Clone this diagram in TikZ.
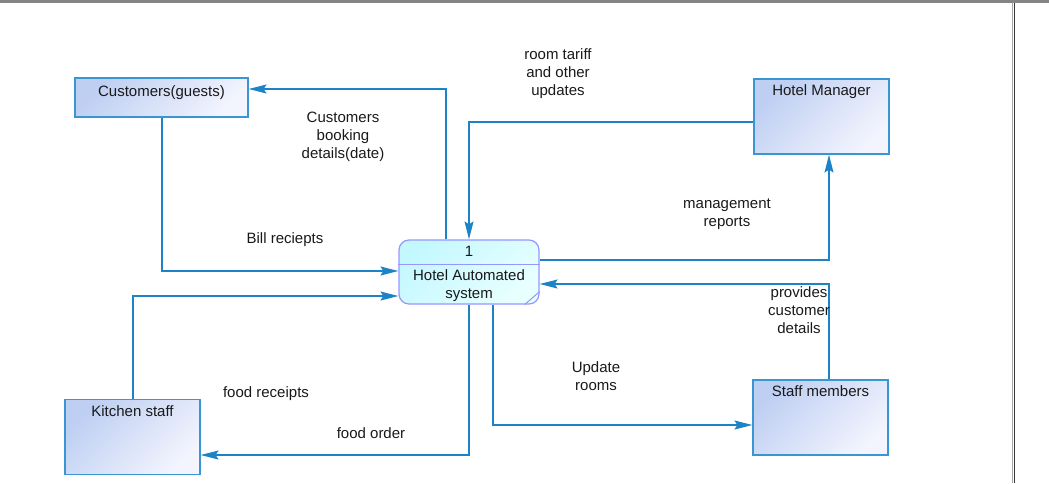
\documentclass[tikz,border=0pt]{standalone}
\usepackage{fontspec}
\setmainfont{Liberation Sans}
\usetikzlibrary{shapes,arrows.meta}

\definecolor{flowblue}{RGB}{28,132,198}
\definecolor{boxline}{RGB}{58,150,210}
\definecolor{boxtop}{RGB}{190,207,242}
\definecolor{boxbot}{RGB}{243,244,254}
\definecolor{procline}{RGB}{150,150,255}
\definecolor{proctop}{RGB}{196,248,255}
\definecolor{procbot}{RGB}{232,255,255}
\definecolor{txt}{RGB}{25,25,25}

\begin{document}
\begin{tikzpicture}[x=1pt,y=-1pt,>={Stealth[length=18pt,width=9pt,inset=3pt]},
  line width=1.2pt,font=\fontsize{15}{18}\selectfont,text=txt]
\tikzstyle{entity}=[draw=boxline,top color=boxtop,bottom color=boxbot,shading angle=45,
  minimum width=135pt,minimum height=75pt,inner sep=0pt]
\tikzstyle{process}=[draw=procline,top color=proctop,bottom color=procbot,shading angle=45,
  rounded corners=10pt,minimum width=140pt,minimum height=64pt,inner sep=0pt]
\tikzstyle{flow}=[->,draw=flowblue]
\tikzstyle{lbl}=[align=center,inner sep=0pt]
\useasboundingbox (0,0) rectangle (1049,483);

% frame of the window
\fill[black!48] (0,0) rectangle (1049,3);
\draw[line width=1.8pt,black!78] (1014.5,3) -- (1014.5,483);
\draw[line width=0.8pt,black!35] (1012.8,3) -- (1012.8,483);

% external entities
\node[entity,minimum width=173pt,minimum height=39pt,
  label={[anchor=north,inner sep=0pt,yshift=-8pt]north:Customers(guests)}] (cust) at (161.5,97.5) {};
\node[entity,label={[anchor=north,inner sep=0pt,yshift=-6pt]north:Hotel Manager}] (mgr) at (821.5,116.5) {};
\node[entity,label={[anchor=north,inner sep=0pt,yshift=-6pt]north:Kitchen staff}] (kit) at (132.5,437) {};
\node[entity,label={[anchor=north,inner sep=0pt,yshift=-6pt]north:Staff members}] (staff) at (820.5,417.5) {};

% process
\node[process] (proc) at (469,272) {};
\draw[draw=procline,line width=1pt] ([yshift=8pt]proc.west) -- ([yshift=8pt]proc.east);
\draw[draw=procline,line width=1pt] ([xshift=-15pt]proc.south east) -- ([yshift=13pt]proc.south east);
\node[anchor=base,inner sep=0pt] (pid) at (469,256.5) {1};
\node[lbl] (pname) at (469,285.5) {Hotel Automated\\system};

% data flows
\draw[flow] ([xshift=-23pt]proc.north) |- ([yshift=8.5pt]cust.east);
\draw[flow] ([xshift=0.5pt]cust.south) |- ([yshift=1pt]proc.west);
\draw[flow] ([yshift=-5.5pt]mgr.west) -| (proc.north);
\draw[flow] ([yshift=12pt]proc.east) -| ([xshift=7.5pt]mgr.south);
\draw[flow] ([xshift=8.5pt]staff.north) |- ([yshift=-12pt]proc.east);
\draw[flow] ([xshift=24pt]proc.south) |- ([yshift=-7.5pt]staff.west);
\draw[flow] ([xshift=0.5pt]kit.north) |- ([yshift=-24pt]proc.west);
\draw[flow] (proc.south) |- ([yshift=-18pt]kit.east);

% flow labels
\node[lbl] (lbook) at (343,136.5) {Customers\\booking\\details(date)};
\node[lbl] (lbill) at (285,239.5) {Bill reciepts};
\node[lbl] (ltariff) at (558,73.5) {room tariff\\and other\\updates};
\node[lbl] (lreport) at (727,214.5) {management\\reports};
\node[lbl] (lprov) at (799,310.5) {provides\\customer\\details};
\node[lbl] (lupd) at (596,376.5) {Update\\rooms};
\node[lbl] (lrcpt) at (266,393.5) {food receipts};
\node[lbl] (lorder) at (371,433.5) {food order};
\end{tikzpicture}
\end{document}
